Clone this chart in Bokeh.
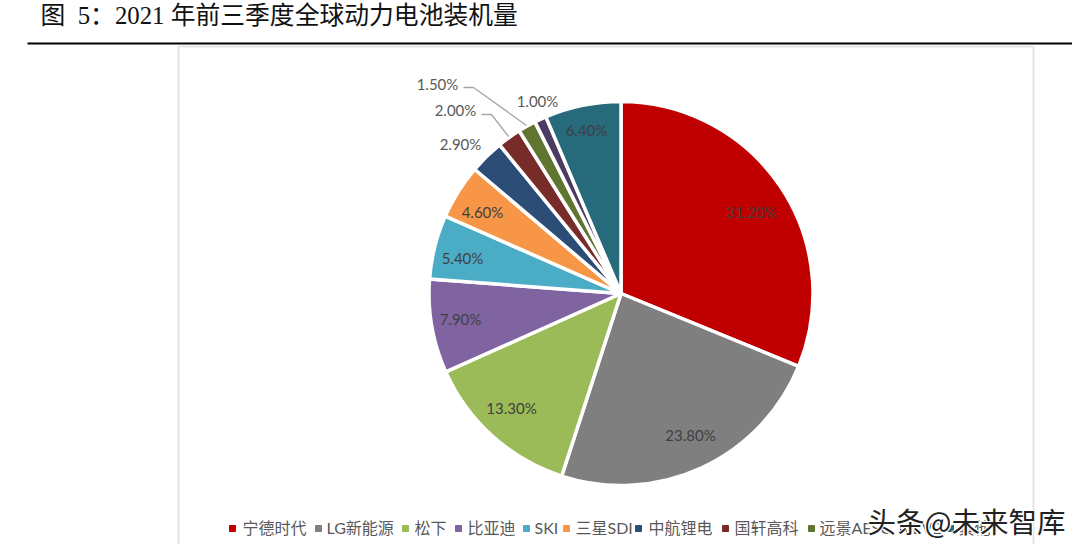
import math
from bokeh.plotting import figure
from bokeh.models import ColumnDataSource
from bokeh.embed import file_html
from bokeh.resources import INLINE

categories = ["宁德时代", "LG新能源", "松下", "比亚迪", "SKI", "三星SDI", "中航锂电", "国轩高科", "远景AESC", "EVE", "其他"]
values = [31.2, 23.8, 13.3, 7.9, 5.4, 4.6, 2.9, 2.0, 1.5, 1.0, 6.4]
colors = ["#C00000", "#7F7F7F", "#9BBB59", "#8064A2", "#4BACC6", "#F79646", "#2C4D75", "#772C2A", "#5F7530", "#4D3B62", "#276A7C"]
title = "图\u00a0\u00a05：2021 年前三季度全球动力电池装机量"
watermark = "头条@未来智库"

# layout, picture pixels (y counted from picture top)
W, H = 1072, 544
CX, CY, R = 620.5, 293, 192
label_px = [(751, 211.5), (690, 434.5), (511, 407.5), (460, 318.5), (462, 257.5), (482, 211.5),
            (460, 143.5), (455, 109.5), (437, 83.5), (537, 100.5), (586, 129.5)]
label_col = ["#404040"] * 6 + ["#595959"] * 4 + ["#404040"]
leaders = [[(481, 114), (491, 114), (508, 136)], [(463, 87), (473, 87), (526, 125)]]
legend_marker_x = [232, 318, 405, 458, 526, 566, 638, 725, 811, 903, 950]
legend_text_x = [242, 326, 414, 467, 534, 575, 648, 734, 819, 912, 958]
LEG_Y = 527


def Y(py):
    return H - py


p = figure(width=W, height=H, x_range=(0, W), y_range=(0, H),
           output_backend="svg", toolbar_location=None, min_border=0)
p.axis.visible = False
p.grid.visible = False
p.outline_line_color = None
p.background_fill_color = "white"

# chart frame
p.line([178, 178], [Y(544), Y(46)], line_color="#E3E3E3", line_width=2)
p.line([178, 1033], [Y(46), Y(46)], line_color="#E3E3E3", line_width=2)
p.line([1033, 1033], [Y(46), Y(544)], line_color="#E3E3E3", line_width=2)

# title and rule
p.text([40], [Y(14.5)], text=[title], text_font={"value": "Liberation Serif, Noto Sans CJK SC"},
       text_font_size="24.8px", text_color="#111111", text_baseline="middle", text_align="left")
p.line([27, W], [Y(43), Y(43)], line_color="#000000", line_width=2)

# pie
total = sum(values)
starts, ends, c = [], [], 0.0
for v in values:
    starts.append(math.pi / 2 - 2 * math.pi * c / total)
    c += v
    ends.append(math.pi / 2 - 2 * math.pi * c / total)
src = ColumnDataSource(dict(x=[CX] * len(values), y=[Y(CY)] * len(values), s=starts, e=ends, color=colors))
p.wedge(x="x", y="y", radius=R, start_angle="s", end_angle="e", direction="clock",
        fill_color="color", line_color="white", line_width=3.5, source=src)

# leaders
for pts in leaders:
    p.line([a for a, _ in pts], [Y(b) for _, b in pts], line_color="#A6A6A6", line_width=1.3)

# data labels
p.text([a for a, _ in label_px], [Y(b) for _, b in label_px], text=[f"{v:.2f}%" for v in values],
       text_color=label_col, text_font={"value": "Lato"}, text_font_size="15px",
       text_align="center", text_baseline="middle")

# legend
p.scatter(legend_marker_x, [Y(LEG_Y + 1)] * len(categories), marker="square", size=6, color=colors)
p.text(legend_text_x, [Y(LEG_Y)] * len(categories), text=categories, text_color="#595959",
       text_font={"value": "Lato, Noto Sans CJK SC"}, text_font_size="16px",
       text_align="left", text_baseline="middle")

# watermark
for dx, dy in [(-1.5, 0), (1.5, 0), (0, -1.5), (0, 1.5)]:
    p.text([867 + dx], [Y(520) + dy], text=[watermark], text_color="white",
           text_font={"value": "Noto Sans CJK SC"}, text_font_size="28.5px",
           text_align="left", text_baseline="middle")
p.text([867], [Y(520)], text=[watermark], text_color="#222222",
       text_font={"value": "Noto Sans CJK SC"}, text_font_size="28.5px",
       text_align="left", text_baseline="middle")

open("out.html", "w").write(file_html(p, INLINE))
